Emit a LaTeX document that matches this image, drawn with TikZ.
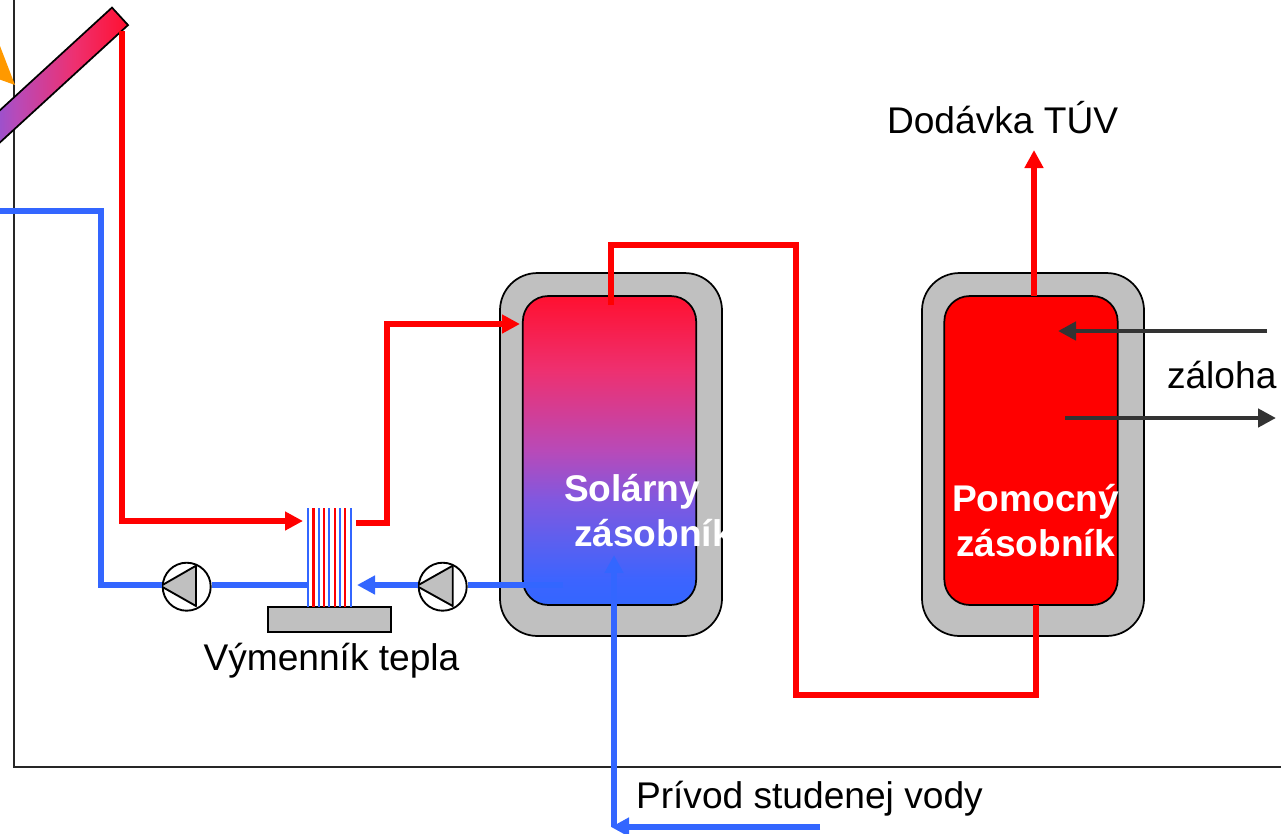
\documentclass[tikz,border=0pt]{standalone}
\usepackage{fontspec}
\setmainfont{Liberation Sans}
\usetikzlibrary{arrows.meta,calc}
\definecolor{hotred}{RGB}{255,0,0}
\definecolor{coldblue}{RGB}{51,102,255}
\definecolor{darkpipe}{RGB}{51,51,51}
\definecolor{insul}{RGB}{192,192,192}
\definecolor{sunorange}{RGB}{255,153,0}
\pgfdeclareverticalshading{tankfade}{100bp}{
  rgb(0bp)=(0.2,0.4,1);
  rgb(25bp)=(0.2,0.4,1);
  rgb(29bp)=(0.235,0.392,1);
  rgb(35bp)=(0.353,0.376,0.941);
  rgb(42bp)=(0.502,0.345,0.878);
  rgb(50bp)=(0.722,0.29,0.722);
  rgb(63bp)=(0.933,0.188,0.439);
  rgb(75bp)=(1,0.063,0.188);
  rgb(100bp)=(1,0.063,0.188)}
\tikzset{
  x=0.75pt,y=-0.75pt,
  hotpipe/.style={draw=hotred,line width=4.6pt,line join=miter},
  coldpipe/.style={draw=coldblue,line width=4.6pt,line join=miter},
  backup/.style={draw=darkpipe,line width=3.7pt},
  tip/.style={-{Triangle[length=13.5pt,width=13.5pt]}},
  shell/.style={draw=black,line width=1.3pt,fill=insul,rounded corners=28pt,minimum width=166.5pt,minimum height=272.2pt,inner sep=0pt},
  core/.style={draw=black,line width=1.3pt,rounded corners=19pt,minimum width=130pt,minimum height=231.7pt,inner sep=0pt},
  pump/.style={circle,draw=black,line width=1.4pt,fill=white,minimum size=36pt,inner sep=0pt},
  impeller/.style={draw=black,line width=1.4pt,fill=insul,line join=round},
  plate/.style={line width=1.6pt},
  label/.style={anchor=base west,inner sep=0pt,outer sep=0pt,font=\fontsize{27.85}{30}\selectfont,text=black},
  tanklabel/.style={anchor=base west,inner sep=0pt,outer sep=0pt,font=\fontsize{27.85}{30}\selectfont\bfseries,text=white},
}
\begin{document}
\begin{tikzpicture}
\useasboundingbox (0,0) rectangle (1281,833);
\clip (0,0) rectangle (1281,833);
% frame
\coordinate (frameTop) at (14,-5);
\coordinate (frameCorner) at (14,767);
\coordinate (frameEnd) at (1290,767);
\draw[draw=black!85,line width=1.3pt] (frameTop) -- (frameCorner) -- (frameEnd);
% sun and collector
\fill[sunorange] (-10,20) -- (15,85) -- (-10,76) -- cycle;
\node[draw=black,line width=1.3pt,rotate=42.5,minimum width=210pt,minimum height=17.8pt,inner sep=0pt,shading=tankfade,shading angle=-90] (collector) at (16.8,110.9) {};
% tanks
\node[shell] (solarShell) at (611,454.5) {};
\node[core,shading=tankfade] (solarCore) at (609.5,450.5) {};
\node[shell] (auxShell) at (1033,454.5) {};
\node[core,fill=hotred] (auxCore) at (1031,450.5) {};
% exchanger
\node[draw=black,line width=1.4pt,fill=insul,minimum width=92.5pt,minimum height=18.5pt,inner sep=0pt] (base) at (329.3,619.5) {};
\foreach \xx/\cc in {307.8/coldblue,313.5/hotred,319/coldblue,324/hotred,329.3/coldblue,334.7/hotred,340/coldblue,345.3/hotred,350.7/coldblue}
  \draw[plate,draw=\cc] (\xx,508) -- (\xx,607);
% named points
\coordinate (collOut) at (122,31);
\coordinate (hxHotIn) at (303,521);
\coordinate (hxHotOut) at (356,523);
\coordinate (solarIn) at (520,324);
\coordinate (solarTop) at (611,305);
\coordinate (auxBottom) at (1036,605);
\coordinate (auxTop) at (1034,296);
\coordinate (supply) at (1034,150);
\coordinate (coldReturn) at (-5,211);
\coordinate (hxColdA) at (307,585);
\coordinate (hxColdB) at (357,585);
\coordinate (solarDraw) at (563,585);
\coordinate (feedStart) at (820,827);
\coordinate (feedCorner) at (614,827);
\coordinate (feedTip) at (611,827);
\coordinate (feedEnd) at (614,555);
\coordinate (backupInStart) at (1267,331);
\coordinate (backupInEnd) at (1058,331);
\coordinate (backupOutStart) at (1065,418);
\coordinate (backupOutEnd) at (1276,418);
% pumps
\node[pump] (pumpA) at (186.7,586.7) {};
\node[pump] (pumpB) at (442.7,586.7) {};
\draw[impeller] (160.7,586) -- (196,565.7) -- (196,606) -- cycle;
\draw[impeller] (416.7,586) -- (452.7,565.7) -- (452.7,606) -- cycle;
% red circuits
\draw[hotpipe,tip] (collOut) -- (122,521) -- (hxHotIn);
\draw[hotpipe,tip] (hxHotOut) -- (387,523) -- (387,324) -- (solarIn);
\draw[hotpipe] (solarTop) -- (611,245) -- (796,245) -- (796,695) -- (1036,695) -- (auxBottom);
\draw[hotpipe,tip] (auxTop) -- (supply);
% blue circuits
\draw[coldpipe] (coldReturn) -- (101,211) -- (101,585) -- (pumpA.west |- 0,585);
\draw[coldpipe] (pumpA.east |- 0,585) -- (hxColdA);
\draw[coldpipe] (solarDraw) -- (pumpB.east |- 0,585);
\draw[coldpipe,tip] (pumpB.west |- 0,585) -- (hxColdB);
\draw[coldpipe,tip] (feedCorner) -- (feedEnd);
\draw[coldpipe,tip] (feedStart) -- (feedTip);
% backup
\draw[backup,tip] (backupInStart) -- (backupInEnd);
\draw[backup,tip] (backupOutStart) -- (backupOutEnd);
% texts
\node[label] (tSupply) at (887,133) {Dodávka TÚV};
\node[label] (tBackup) at (1167,388) {záloha};
\node[label] (tHx) at (203.5,670) {Výmenník tepla};
\node[label] (tFeed) at (636,808) {Prívod studenej vody};
\node[tanklabel] (tSolarA) at (564,501) {Solárny};
\node[tanklabel] (tSolarB) at (574,546) {zásobník};
\node[tanklabel] (tAuxA) at (952,511) {Pomocný};
\node[tanklabel] (tAuxB) at (956,556) {zásobník};
\end{tikzpicture}
\end{document}
